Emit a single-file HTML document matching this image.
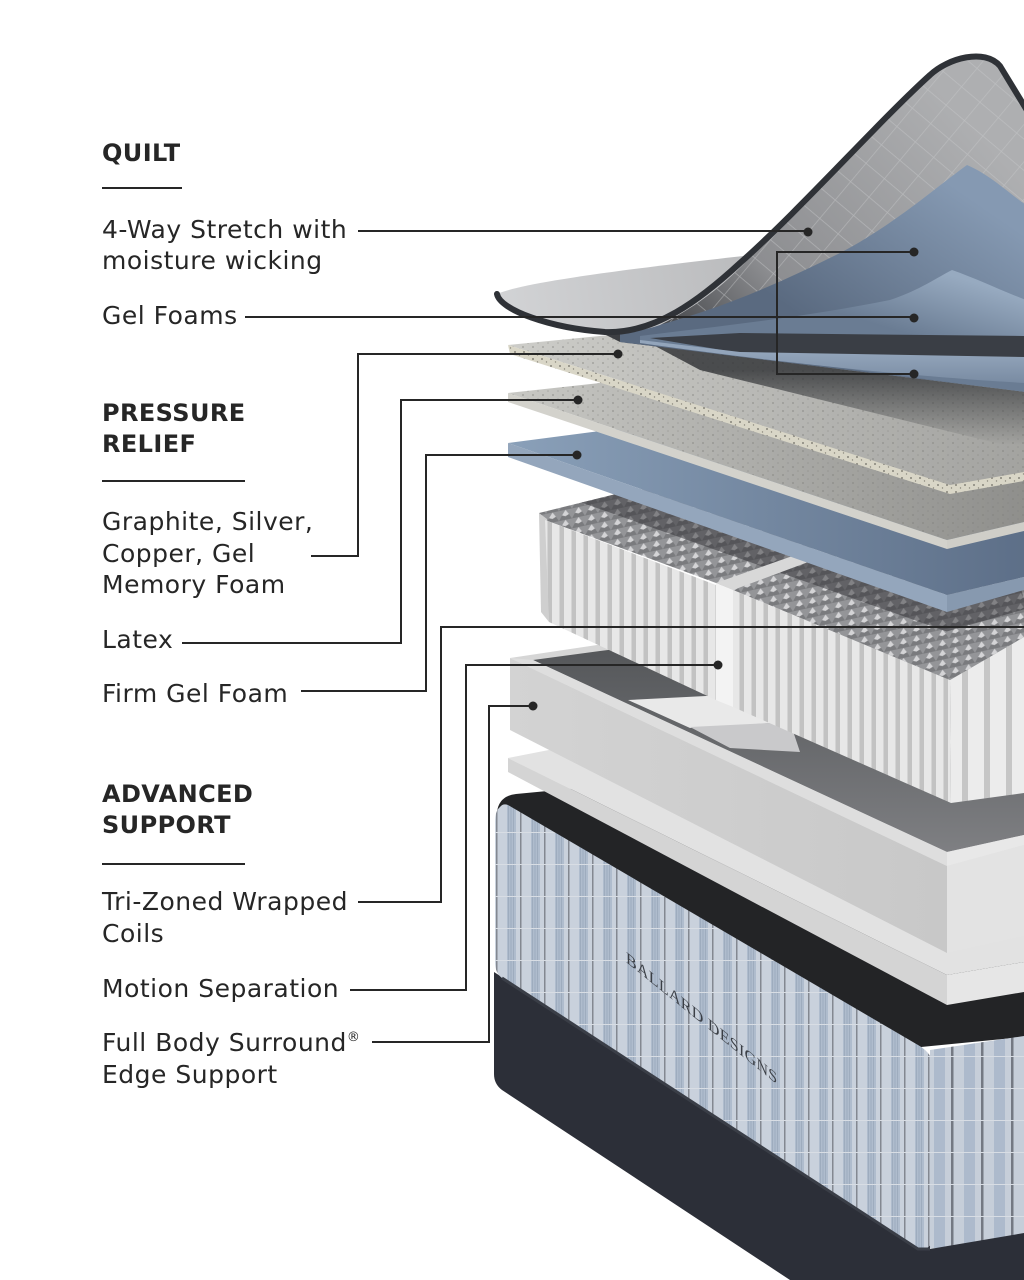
<!DOCTYPE html>
<html><head><meta charset="utf-8">
<style>
html,body{margin:0;padding:0;background:#fff;}
svg{display:block;}
.t{font-family:"DejaVu Sans","Liberation Sans",sans-serif;font-size:25px;fill:#262626;letter-spacing:0.5px;}
.h{font-family:"DejaVu Sans","Liberation Sans",sans-serif;font-size:24px;font-weight:bold;fill:#262626;letter-spacing:0.4px;}
</style></head><body>
<svg width="1024" height="1280" viewBox="0 0 1024 1280" xmlns="http://www.w3.org/2000/svg">
<defs>
  <pattern id="fab" width="24" height="32" patternUnits="userSpaceOnUse">
    <rect width="24" height="32" fill="#c9d1dc"/>
    <rect x="3" width="9" height="32" fill="#afbccd"/>
    <path d="M4.5,0v32M7,0v32M9.5,0v32" stroke="#97a5b8" stroke-width="0.7"/>
    <rect x="16" width="1.5" height="32" fill="#838891"/>
    <rect width="24" height="1" fill="#d8dde4"/>
  </pattern>
  <pattern id="fab2" width="30" height="32" patternUnits="userSpaceOnUse">
    <rect width="30" height="32" fill="#c6ced9"/>
    <rect x="4" width="11" height="32" fill="#adbacc"/>
    <rect x="21" width="2.5" height="32" fill="#747983"/>
    <rect width="30" height="1" fill="#d8dde4"/>
  </pattern>
  <pattern id="pl" width="12" height="300" patternUnits="userSpaceOnUse">
    <rect width="12" height="300" fill="#e7e7e7"/>
    <rect x="8" width="4" height="300" fill="#c2c2c2"/>
    <rect x="7" width="1" height="300" fill="#d4d4d4"/>
  </pattern>
  <pattern id="pl2" width="22" height="300" patternUnits="userSpaceOnUse">
    <rect width="22" height="300" fill="#ececec"/>
    <rect x="16" width="6" height="300" fill="#c6c6c6"/>
  </pattern>
  <pattern id="egg" width="13" height="10" patternUnits="userSpaceOnUse" patternTransform="skewY(-12)">
    <rect width="13" height="10" fill="#949598"/>
    <path d="M6.5,0 L10,5 L6.5,6.5 L3,5 Z" fill="#d4d4d6"/>
    <path d="M3,5 L6.5,6.5 L10,5 L13,10 L0,10 Z" fill="#7a7b7e"/>
  </pattern>
  <pattern id="dia" width="24" height="24" patternUnits="userSpaceOnUse" patternTransform="rotate(40)">
    <path d="M0,0H24M0,0V24" stroke="#c8c9cb" stroke-width="1.4" fill="none"/>
  </pattern>
  <pattern id="spk" width="9" height="7" patternUnits="userSpaceOnUse">
    <rect width="9" height="7" fill="#d9d6c7"/>
    <circle cx="2" cy="2" r="0.9" fill="#6e6c64"/>
    <circle cx="6.5" cy="5" r="0.7" fill="#8a877c"/>
  </pattern>
  <pattern id="dots" width="10" height="8" patternUnits="userSpaceOnUse">
    <circle cx="3" cy="3" r="1" fill="#7d7d7a" opacity=".5"/>
    <circle cx="8" cy="7" r="0.8" fill="#7d7d7a" opacity=".4"/>
  </pattern>

  <linearGradient id="gUnder" gradientUnits="userSpaceOnUse" x1="650" y1="335" x2="930" y2="80">
    <stop offset="0" stop-color="#3c3e42"/>
    <stop offset="0.35" stop-color="#8d8e91"/>
    <stop offset="1" stop-color="#aeafb1"/>
  </linearGradient>
  <linearGradient id="gQT" gradientUnits="userSpaceOnUse" x1="500" y1="300" x2="760" y2="260">
    <stop offset="0" stop-color="#d2d3d5"/>
    <stop offset="1" stop-color="#b9babc"/>
  </linearGradient>
  <linearGradient id="gB1" gradientUnits="userSpaceOnUse" x1="930" y1="170" x2="820" y2="330">
    <stop offset="0" stop-color="#8599b2"/>
    <stop offset="1" stop-color="#5a6a80"/>
  </linearGradient>
  <linearGradient id="gB2" gradientUnits="userSpaceOnUse" x1="940" y1="272" x2="920" y2="338">
    <stop offset="0" stop-color="#97aac0"/>
    <stop offset="1" stop-color="#6a7c93"/>
  </linearGradient>
  <linearGradient id="gB3" gradientUnits="userSpaceOnUse" x1="0" y1="352" x2="0" y2="382">
    <stop offset="0" stop-color="#93a5bb"/>
    <stop offset="1" stop-color="#7a8ca3"/>
  </linearGradient>
  <linearGradient id="gGT" gradientUnits="userSpaceOnUse" x1="508" y1="0" x2="1024" y2="0">
    <stop offset="0" stop-color="#cdcdc9"/>
    <stop offset="1" stop-color="#a3a3a0"/>
  </linearGradient>
  <linearGradient id="gLT" gradientUnits="userSpaceOnUse" x1="508" y1="0" x2="1024" y2="0">
    <stop offset="0" stop-color="#c8c8c4"/>
    <stop offset="1" stop-color="#8f8f8c"/>
  </linearGradient>
  <linearGradient id="gBT" gradientUnits="userSpaceOnUse" x1="508" y1="0" x2="1024" y2="0">
    <stop offset="0" stop-color="#8aa0b9"/>
    <stop offset="1" stop-color="#5d6f88"/>
  </linearGradient>
  <linearGradient id="gShadow" gradientUnits="userSpaceOnUse" x1="0" y1="370" x2="0" y2="445">
    <stop offset="0" stop-color="#2e3033" stop-opacity="0.8"/>
    <stop offset="1" stop-color="#2e3033" stop-opacity="0"/>
  </linearGradient>
  <linearGradient id="gFloor" gradientUnits="userSpaceOnUse" x1="0" y1="650" x2="0" y2="860">
    <stop offset="0" stop-color="#55575a"/>
    <stop offset="1" stop-color="#808184"/>
  </linearGradient>
  <linearGradient id="gFrame" gradientUnits="userSpaceOnUse" x1="510" y1="0" x2="947" y2="0">
    <stop offset="0" stop-color="#d3d3d3"/>
    <stop offset="1" stop-color="#c8c8c8"/>
  </linearGradient>
  <clipPath id="eggClip">
    <polygon points="539,513 620,493 760,470 1024,440 1024,637 950,680 733,590 716,583 545,520"/>
  </clipPath>
</defs>

<rect width="1024" height="1280" fill="#fff"/>

<!-- ===== BASE ===== -->
<path d="M494,972 L921,1246 L1024,1229 L1024,1280 L790,1280 L502,1090 Q494,1084 494,1074 Z" fill="#2c2f38"/>
<path d="M497,812 Q499,796 516,794 L600,786 L1024,730 L1024,1037 L921,1047 L505,808 Z" fill="#232426"/>
<path d="M500,807 Q503,803 508,805 L918,1045 Q934,1054 934,1070 L934,1232 Q934,1251 918,1249 L502,978 Q495,973 495,962 L495,822 Q495,811 500,807 Z" fill="url(#fab)"/>
<path d="M930,1050 L1024,1036 L1024,1233 L930,1249 Z" fill="url(#fab2)"/>
<path d="M502,978 L918,1249 L930,1249" stroke="#3a3e47" stroke-width="3" fill="none"/>
<text transform="translate(626,962) skewY(39)" font-family="Liberation Serif, serif" font-size="16" fill="#3b3f46" letter-spacing="0.3">BALLARD DESIGNS</text>

<!-- ===== BOTTOM FOAM ===== -->
<polygon points="508,758 600,740 1024,700 1024,962 947,975" fill="#e2e2e2"/>
<polygon points="508,758 947,975 947,1005 508,772" fill="#d4d4d4"/>
<polygon points="947,975 1024,962 1024,992 947,1005" fill="#e6e6e6"/>

<!-- ===== FRAME (edge support) ===== -->
<polygon points="510,658 597,645 720,628 1024,600 1024,845 947,866" fill="#d6d6d6"/>
<polygon points="533,660 600,651 720,636 1024,605 1024,835 947,852" fill="url(#gFloor)"/>
<polygon points="628,700 745,694 790,722 690,728" fill="#e9e9e9"/>
<polygon points="690,727 790,722 800,752 730,748" fill="#c9c9cb"/>
<polygon points="510,658 947,866 947,953 510,730" fill="url(#gFrame)"/>
<polygon points="947,866 1024,845 1024,936 947,953" fill="#e3e3e3"/>
<polygon points="510,658 533,660 947,852 947,866" fill="#dedede"/>
<polygon points="947,852 1024,835 1024,845 947,866" fill="#e8e8e8"/>

<!-- ===== COILS ===== -->
<polygon points="539,513 620,493 760,470 1024,440 1024,637 950,680 733,590 716,583 545,520" fill="url(#egg)"/>
<g clip-path="url(#eggClip)">
  <path d="M508,466 L947,621 L1024,599" stroke="#2f3033" stroke-opacity="0.5" stroke-width="20" fill="none"/>
</g>
<polygon points="716,583 733,590 835,552 818,547" fill="#d8d8d8"/>
<polygon points="539,513 547,519 549,622 541,612" fill="#cfcfcf"/>
<polygon points="545,520 716,585 716,700 549,622" fill="url(#pl)"/>
<polygon points="733,590 950,680 951,803 733,707" fill="url(#pl)"/>
<polygon points="716,583 733,590 733,707 716,700" fill="#f3f3f3"/>
<polygon points="950,680 1024,637 1024,793 951,803" fill="url(#pl2)"/>

<!-- ===== FIRM GEL FOAM (blue) ===== -->
<polygon points="508,443 600,431 1024,380 1024,577 947,595" fill="url(#gBT)"/>
<polygon points="508,443 947,595 947,612 508,457" fill="#94a6bc"/>
<polygon points="947,595 1024,577 1024,590 947,612" fill="#8799af"/>

<!-- ===== LATEX ===== -->
<polygon points="508,393 600,383 1024,340 1024,522 947,540" fill="url(#gLT)"/>
<polygon points="508,393 600,383 1024,340 1024,522 947,540" fill="url(#dots)"/>
<polygon points="508,393 947,540 947,549 508,402" fill="#d3d2cc"/>
<polygon points="947,540 1024,522 1024,531 947,549" fill="#cfcec8"/>

<!-- ===== GRAPHITE ===== -->
<polygon points="508,345 620,334 1024,300 1024,472 950,485" fill="url(#gGT)"/>
<polygon points="508,345 620,334 1024,300 1024,472 950,485" fill="url(#dots)"/>
<polygon points="508,345 950,485 950,494 510,354" fill="url(#spk)"/>
<polygon points="950,485 1024,472 1024,481 950,494" fill="url(#spk)"/>
<polygon points="640,338 1024,375 1024,450 700,370" fill="url(#gShadow)"/>

<!-- ===== QUILT STACK ===== -->
<path d="M600,332 C660,330 700,300 740,263 C800,210 880,120 930,75 C948,58 985,48 1000,66 L1026,108 L1026,392 L620,342 Z" fill="url(#gUnder)"/>
<path d="M600,332 C660,330 700,300 740,263 C800,210 880,120 930,75 C948,58 985,48 1000,66 L1026,108 L1026,392 L620,342 Z" fill="url(#dia)" opacity=".55"/>
<path d="M620,334 C700,318 770,288 840,253 C895,224 935,188 967,165 C990,175 1005,190 1026,205 L1026,392 L620,342 Z" fill="url(#gB1)"/>
<path d="M640,336 C720,326 800,318 890,300 C920,290 938,277 952,270 C975,278 1000,290 1026,300 L1026,392 L640,342 Z" fill="url(#gB2)"/>
<path d="M650,338 L740,333 L1026,336 L1026,358 L740,353 Z" fill="#3a3e45"/>
<path d="M640,340 L740,352 L1026,357 L1026,383 C950,379 800,366 640,343 Z" fill="url(#gB3)"/>
<path d="M497,294 C520,284 600,272 752,255 C730,280 700,305 660,325 C640,332 620,333 600,333 C560,332 505,316 497,294 Z" fill="url(#gQT)"/>
<path d="M497,294 C500,310 550,328 605,332 C655,334 700,300 740,263 C800,210 880,120 930,75 C948,58 985,48 1000,66 L1028,112" stroke="#2f3237" stroke-width="6" fill="none" stroke-linecap="round" stroke-linejoin="round"/>

<!-- ===== TEXT ===== -->
<text class="h" x="102" y="161">QUILT</text>
<rect x="102" y="187" width="80" height="2" fill="#262626"/>
<text class="t" x="102" y="238">4-Way Stretch with</text>
<text class="t" x="102" y="269">moisture wicking</text>
<text class="t" x="102" y="324">Gel Foams</text>

<text class="h" x="102" y="421">PRESSURE</text>
<text class="h" x="102" y="452">RELIEF</text>
<rect x="102" y="480" width="143" height="2" fill="#262626"/>
<text class="t" x="102" y="530">Graphite, Silver,</text>
<text class="t" x="102" y="562">Copper, Gel</text>
<text class="t" x="102" y="593">Memory Foam</text>
<text class="t" x="102" y="648">Latex</text>
<text class="t" x="102" y="702">Firm Gel Foam</text>

<text class="h" x="102" y="802">ADVANCED</text>
<text class="h" x="102" y="833">SUPPORT</text>
<rect x="102" y="863" width="143" height="2" fill="#262626"/>
<text class="t" x="102" y="910">Tri-Zoned Wrapped</text>
<text class="t" x="102" y="942">Coils</text>
<text class="t" x="102" y="997">Motion Separation</text>
<text class="t" x="102" y="1051">Full Body Surround<tspan font-size="13" dy="-10">®</tspan></text>
<text class="t" x="102" y="1083">Edge Support</text>

<!-- ===== CONNECTORS ===== -->
<g stroke="#262626" stroke-width="2" fill="none">
  <path d="M358,231 H808"/>
  <path d="M245,317 H914"/>
  <path d="M914,252 H777 V374 H914"/>
  <path d="M311,556 H358 V354 H618"/>
  <path d="M182,643 H401 V400 H578"/>
  <path d="M301,691 H426 V455 H577"/>
  <path d="M358,902 H441 V627 H1024"/>
  <path d="M350,990 H466 V665 H718"/>
  <path d="M372,1042 H489 V706 H533"/>
</g>
<g fill="#262626">
  <circle cx="808" cy="232" r="4.5"/>
  <circle cx="914" cy="252" r="4.5"/>
  <circle cx="914" cy="318" r="4.5"/>
  <circle cx="914" cy="374" r="4.5"/>
  <circle cx="618" cy="354" r="4.5"/>
  <circle cx="578" cy="400" r="4.5"/>
  <circle cx="577" cy="455" r="4.5"/>
  <circle cx="718" cy="665" r="4.5"/>
  <circle cx="533" cy="706" r="4.5"/>
</g>
</svg>
</body></html>
